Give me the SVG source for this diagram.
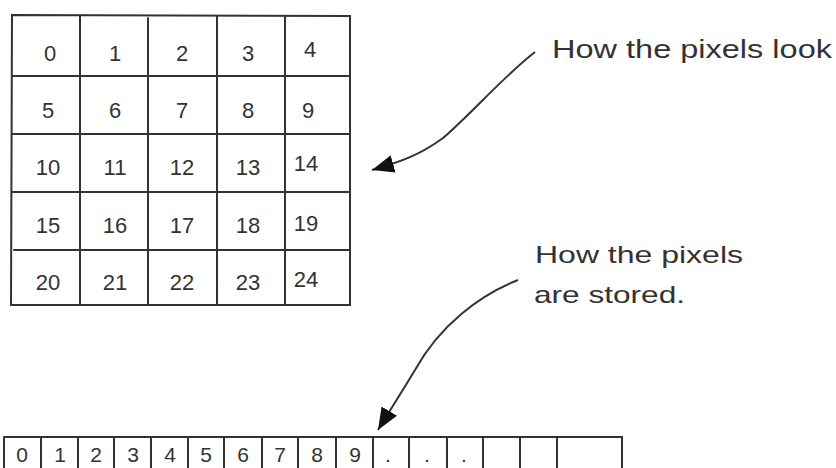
<svg xmlns="http://www.w3.org/2000/svg" width="836" height="468" viewBox="0 0 836 468">
<style>
.ln{stroke:#333;stroke-width:2;fill:none;stroke-linecap:round}
.n{font-family:"Liberation Sans",Arial,sans-serif;font-size:22px;fill:#333;text-anchor:middle}
.s{font-family:"Liberation Sans",Arial,sans-serif;font-size:21px;fill:#333;text-anchor:middle}
.lbl{font-family:"Liberation Sans",Arial,sans-serif;fill:#333}
.arr{stroke:#333;stroke-width:2;fill:none}
</style>
<defs>
<marker id="ah" viewBox="0 0 22 18" refX="22" refY="9" markerWidth="22" markerHeight="18" markerUnits="userSpaceOnUse" orient="auto">
<path d="M0,0 L22,9 L0,18 Z" fill="#111"/>
</marker>
</defs>
<rect width="836" height="468" fill="#fff"/>
<g id="grid">
<path class="ln" d="M12,15 L350,16 L350,305 L11,305 Z"/>
<path class="ln" d="M80,16 V305 M148,18 V305 M217,16 V305 M285,16 V305"/>
<path class="ln" d="M12,76 H350 M12,134 H350 M12,192 H350 M14,250 H350"/>
<text class="n" x="50" y="61">0</text><text class="n" x="115" y="61">1</text><text class="n" x="182" y="61">2</text><text class="n" x="248" y="61">3</text><text class="n" x="310" y="57">4</text>
<text class="n" x="48" y="118">5</text><text class="n" x="115" y="118">6</text><text class="n" x="182" y="118">7</text><text class="n" x="248" y="118">8</text><text class="n" x="308" y="118">9</text>
<text class="n" x="48" y="175">10</text><text class="n" x="115" y="175">11</text><text class="n" x="182" y="175">12</text><text class="n" x="248" y="175">13</text><text class="n" x="306" y="171">14</text>
<text class="n" x="48" y="233">15</text><text class="n" x="115" y="233">16</text><text class="n" x="182" y="233">17</text><text class="n" x="248" y="233">18</text><text class="n" x="306" y="231">19</text>
<text class="n" x="48" y="290">20</text><text class="n" x="115" y="290">21</text><text class="n" x="182" y="290">22</text><text class="n" x="248" y="290">23</text><text class="n" x="306" y="287">24</text>
</g>
<g id="label-look">
<text class="lbl" x="552" y="58" font-size="26" textLength="280" lengthAdjust="spacingAndGlyphs">How the pixels look</text>
</g>
<g id="label-stored">
<text class="lbl" x="535" y="263" font-size="24" textLength="208" lengthAdjust="spacingAndGlyphs">How the pixels</text>
<text class="lbl" x="534" y="303" font-size="24" textLength="151" lengthAdjust="spacingAndGlyphs">are stored.</text>
</g>
<g id="strip">
<path class="ln" d="M4,437 H622 V470 M4,437 V470"/>
<path class="ln" d="M41,437 V470 M78,437 V470 M114,437 V470 M151,437 V470 M188,437 V470 M224,437 V470 M262,437 V470 M298,437 V470 M336,437 V470 M373,437 V470 M409,437 V470 M447,437 V470 M483,437 V470 M520,437 V470 M557,437 V470"/>
<text class="s" x="22" y="462">0</text><text class="s" x="60" y="462">1</text><text class="s" x="96" y="462">2</text><text class="s" x="133" y="462">3</text><text class="s" x="170" y="462">4</text><text class="s" x="206" y="462">5</text><text class="s" x="243" y="462">6</text><text class="s" x="280" y="462">7</text><text class="s" x="317" y="462">8</text><text class="s" x="355" y="462">9</text>
<text class="s" x="388" y="462">.</text><text class="s" x="427" y="462">.</text><text class="s" x="464" y="462">.</text>
</g>
<g id="connectors">
<path class="arr" marker-end="url(#ah)" d="M535,52 C505,75 470,115 443,138 C420,155 400,162 372,170"/>
<path class="arr" marker-end="url(#ah)" d="M518,280 C480,295 440,325 415,370 C400,395 390,410 378,430"/>
</g>
</svg>
